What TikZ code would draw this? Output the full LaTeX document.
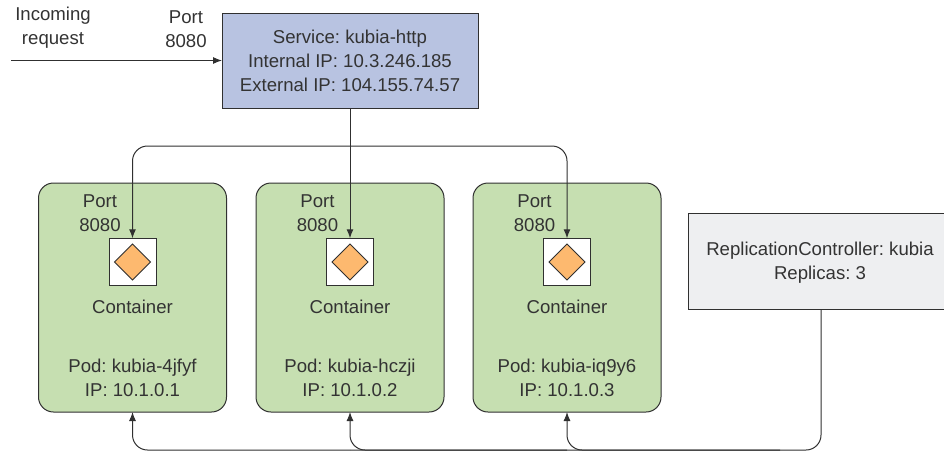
\documentclass[tikz,border=0pt]{standalone}
\usepackage{fontspec}
\setmainfont{Liberation Sans}
\usetikzlibrary{arrows.meta,calc}
\definecolor{txt}{HTML}{333333}
\definecolor{ln}{HTML}{303030}
\tikzset{
  every node/.style={inner sep=0pt,outer sep=0pt,text=txt,font=\fontsize{18.6}{24}\selectfont\frenchspacing,align=center},
  box/.style={draw=ln,line width=1pt,rectangle},
  svcbox/.style={box,fill=svcblue,minimum width=256pt,minimum height=95pt},
  rcbox/.style={box,fill=rcgrey,minimum width=258pt,minimum height=96pt},
  podbox/.style={draw=ln,line width=1pt,rectangle,rounded corners=15pt,fill=podgreen,minimum width=188pt,minimum height=229pt},
  ctrbox/.style={box,fill=white,minimum width=47pt,minimum height=47.5pt},
  gem/.style={draw=ln,line width=1pt,fill=gemorange},
  conn/.style={draw=ln,line width=1pt,-{Latex[length=9pt,width=7pt]},rounded corners=15pt},
  plain/.style={draw=ln,line width=1pt,rounded corners=15pt},
}
\definecolor{svcblue}{HTML}{B8C3E1}
\definecolor{rcgrey}{HTML}{EEEFF1}
\definecolor{podgreen}{HTML}{C6DFB1}
\definecolor{gemorange}{HTML}{FDB96F}
\begin{document}
\begin{tikzpicture}[x=1pt,y=-1pt]
\useasboundingbox (0,0) rectangle (944,451);
\node[svcbox] (svc) at (350,60.5) {Service: kubia-http\\Internal IP: 10.3.246.185\\External IP: 104.155.74.57};
\node[rcbox] (rc) at (817,261) {};
\node (rctext) at (820,262.5) {ReplicationController: kubia\\Replicas: 3};
\foreach \n/\cx/\podname/\ip in {a/132.5/kubia-4jfyf/10.1.0.1,b/350/kubia-hczji/10.1.0.2,c/567/kubia-iq9y6/10.1.0.3}{
  \node[podbox] (pod\n) at (\cx,297.5) {};
  \node[ctrbox] (ctr\n) at (\cx,262) {};
  \draw[gem] (\cx-18,262) -- (\cx,244) -- (\cx+18,262) -- (\cx,280) -- cycle;
  \node (port\n) at (\cx-32.5,213) {Port\\8080};
  \node (ctext\n) at (\cx,306.5) {Container};
  \node (podt\n) at (\cx,378) {Pod: \podname\\IP: \ip};
}
\node (inc) at (53,28) {Incoming\\request};
\node (svcport) at (186,29.5) {Port\\8080};
\coordinate (in) at (11,60.5);
\draw[conn] (in) -- (svc.west |- in);
\draw[conn] (svc.south) -- (ctrb.north);
\coordinate (bus) at (350,146);
\draw[conn] (bus) -| (ctra.north);
\draw[conn] (bus) -| (ctrc.north);
\coordinate (rcout) at (821,309);
\coordinate (low) at (350,450);
\draw[plain] (rcout) |- (low);
\draw[conn] (low) -| (poda.south);
\draw[conn] (567,450) -| (podb.south);
\draw[conn] (780,450) -| (podc.south);
\end{tikzpicture}
\end{document}
